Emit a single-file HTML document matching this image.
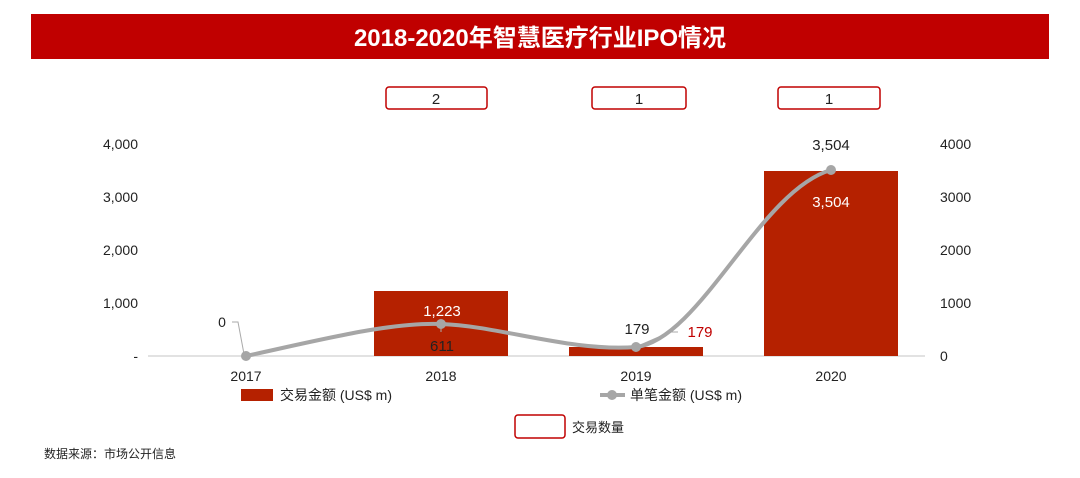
<!DOCTYPE html>
<html><head><meta charset="utf-8"><style>
body{margin:0;background:#fff;width:1080px;height:473px;overflow:hidden}
svg text{font-family:"Liberation Sans","Noto Sans CJK SC",sans-serif}
</style></head><body>
<svg width="1080" height="473" viewBox="0 0 1080 473" xmlns="http://www.w3.org/2000/svg">
<rect x="31" y="14" width="1018" height="45" fill="#c00000"/>
<text x="540" y="46" font-size="24" font-weight="bold" fill="#fff" text-anchor="middle">2018-2020年智慧医疗行业IPO情况</text>
<g fill="#fff" stroke="#c00000" stroke-width="1.5">
<rect x="386" y="87" width="101" height="22" rx="3"/>
<rect x="592" y="87" width="94" height="22" rx="3"/>
<rect x="778" y="87" width="102" height="22" rx="3"/>
<rect x="515" y="415" width="50" height="23" rx="3"/>
</g>
<g font-size="15" fill="#222" text-anchor="middle">
<text x="436" y="104">2</text><text x="639" y="104">1</text><text x="829" y="104">1</text>
</g>
<g font-size="14" fill="#222" text-anchor="end">
<text x="138" y="149">4,000</text><text x="138" y="202">3,000</text><text x="138" y="255">2,000</text><text x="138" y="308">1,000</text><text x="138" y="361">-</text>
</g>
<g font-size="14" fill="#222">
<text x="940" y="149">4000</text><text x="940" y="202">3000</text><text x="940" y="255">2000</text><text x="940" y="308">1000</text><text x="940" y="361">0</text>
</g>
<line x1="148" y1="356" x2="925" y2="356" stroke="#d9d9d9" stroke-width="1.5"/>
<g fill="#b52100">
<rect x="374" y="291" width="134" height="65"/>
<rect x="569" y="347" width="134" height="9"/>
<rect x="764" y="171" width="134" height="185"/>
</g>
<g font-size="14" fill="#222" text-anchor="middle">
<text x="246" y="381">2017</text><text x="441" y="381">2018</text><text x="636" y="381">2019</text><text x="831" y="381">2020</text>
</g>
<polyline points="232,322 238,322 244,354" fill="none" stroke="#aaa" stroke-width="1"/>
<polyline points="638,346 670,332 678,332" fill="none" stroke="#aaa" stroke-width="1"/>
<line x1="441" y1="324" x2="441" y2="332" stroke="#aaa"/>
<path d="M246,356 C320,340 390,322 441,324 C500,326 570,352 636,347 C700,340 760,190 831,170" fill="none" stroke="#a6a6a6" stroke-width="4"/>
<g fill="#a6a6a6"><circle cx="246" cy="356" r="5"/><circle cx="441" cy="324" r="5"/><circle cx="636" cy="347" r="5"/><circle cx="831" cy="170" r="5"/></g>
<text x="222" y="327" font-size="14" fill="#222" text-anchor="middle">0</text>
<text x="442" y="316" font-size="15" fill="#fff" text-anchor="middle">1,223</text>
<text x="442" y="351" font-size="15" fill="#222" text-anchor="middle">611</text>
<text x="637" y="334" font-size="15" fill="#222" text-anchor="middle">179</text>
<text x="700" y="337" font-size="15" fill="#c00000" text-anchor="middle">179</text>
<text x="831" y="150" font-size="15" fill="#222" text-anchor="middle">3,504</text>
<text x="831" y="207" font-size="15" fill="#fff" text-anchor="middle">3,504</text>
<rect x="241" y="389" width="32" height="12" fill="#b52100"/>
<text x="280" y="400" font-size="14" fill="#222">交易金额 (US$ m)</text>
<line x1="600" y1="395" x2="625" y2="395" stroke="#a6a6a6" stroke-width="4"/>
<circle cx="612" cy="395" r="5" fill="#a6a6a6"/>
<text x="630" y="400" font-size="14" fill="#222">单笔金额 (US$ m)</text>
<text x="572" y="432" font-size="13" fill="#222">交易数量</text>
<text x="44" y="458" font-size="12" fill="#222">数据来源：市场公开信息</text>
</svg>
</body></html>
